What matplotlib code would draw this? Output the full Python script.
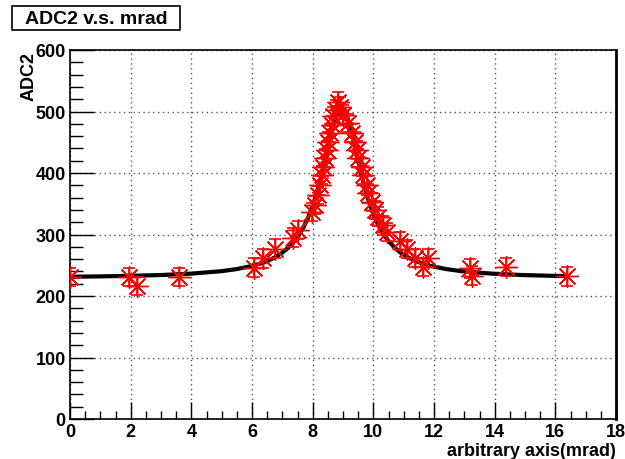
import numpy as np
import matplotlib.pyplot as plt
from matplotlib.patches import Rectangle
from matplotlib.ticker import MultipleLocator

plt.rcParams['font.family'] = ['Liberation Sans', 'DejaVu Sans']
plt.rcParams['font.weight'] = 'bold'

x_pts = [0.0, 1.95, 2.2, 3.6, 6.08, 6.37, 6.76, 7.36, 7.53, 7.97, 8.08, 8.19, 8.24,
         8.30, 8.35, 8.41, 8.46, 8.52, 8.57, 8.63, 8.68, 8.77, 8.85, 8.90, 9.01,
         9.18, 9.29, 9.40, 9.45, 9.51, 9.62, 9.67, 9.78, 9.84, 9.95, 10.06, 10.17,
         10.33, 10.44, 10.88, 11.12, 11.37, 11.63, 11.81, 13.19, 13.24, 14.38, 16.38]
y_pts = [231, 231, 216, 231, 246, 261, 277, 295, 307, 337, 348, 364, 380,
         397, 410, 424, 437, 451, 465, 478, 492, 503, 516, 508, 495,
         481, 465, 451, 437, 424, 410, 397, 380, 367, 353, 340, 329,
         315, 304, 289, 276, 262, 247, 262, 245, 233, 247, 232]
y_err = 15

# fit curve
x_fit = [0.0, 1.0, 2.0, 3.0, 4.0, 5.0, 5.5, 6.0, 6.25, 6.5, 6.75, 7.0, 7.2, 7.4,
         7.55, 7.7, 7.85, 8.0, 8.1, 8.2, 8.3, 8.4, 8.5, 8.6, 8.7, 8.8, 8.85, 8.95,
         9.05, 9.1, 9.2, 9.3, 9.4, 9.5, 9.6, 9.7, 9.8, 9.9, 10.05, 10.2, 10.35,
         10.5, 10.7, 10.9, 11.15, 11.4, 11.65, 11.9, 12.4, 12.9, 13.9, 14.9, 15.9,
         16.4]
y_fit = [231.3, 231.9, 232.8, 234.1, 236.4, 240.4, 243.8, 248.8, 252.3, 256.8,
         262.7, 270.5, 278.7, 289.4, 299.5, 312.0, 327.6, 346.8, 362.0, 379.3,
         398.5, 419.3, 441.1, 462.5, 481.5, 496.0, 501.0, 505.0, 501.0, 496.0,
         481.5, 462.5, 441.1, 419.3, 398.5, 379.3, 362.0, 346.8, 327.6, 312.0,
         299.5, 289.4, 278.7, 270.5, 262.7, 256.8, 252.3, 248.8, 243.8, 240.4,
         236.4, 234.1, 232.8, 232.3]

fig = plt.figure(figsize=(6.25, 4.6), dpi=100)
ax = fig.add_axes([70 / 625, 1 - 420 / 460, 546 / 625, 369 / 460])

ax.plot(x_fit, y_fit, color='black', lw=3, zorder=2,
        solid_joinstyle='round', solid_capstyle='round')
ax.errorbar(x_pts, y_pts, yerr=y_err, fmt='none', ecolor='red', elinewidth=1.2,
            capsize=4, capthick=1.2, zorder=3)
ax.plot(x_pts, y_pts, linestyle='none', marker=(8, 2, 0), markersize=16,
        markeredgecolor='red', markeredgewidth=1.0, color='red', zorder=4)
ax.plot(x_pts, y_pts, linestyle='none', marker='o', markersize=3,
        color='red', zorder=4)

ax.set_xlim(0, 18)
ax.set_ylim(0, 600)
ax.xaxis.set_major_locator(MultipleLocator(2))
ax.xaxis.set_minor_locator(MultipleLocator(0.5))
ax.yaxis.set_major_locator(MultipleLocator(100))
ax.yaxis.set_minor_locator(MultipleLocator(20))
ax.grid(True, which='major', color='#555555', linestyle=(0, (1, 2.5)), lw=1.0)

ax.tick_params(which='both', direction='in', top=False, right=False, labelsize=13)
ax.tick_params(axis='x', which='major', length=12, width=1, pad=3)
ax.tick_params(axis='x', which='minor', length=6, width=1)
ax.tick_params(axis='y', which='major', length=17, width=1, pad=3)
ax.tick_params(axis='y', which='minor', length=9, width=1)
for lab in ax.get_xticklabels() + ax.get_yticklabels():
    lab.set_fontweight('bold')
for s in ax.spines.values():
    s.set_linewidth(1.2)
ax.spines['right'].set_linewidth(2)

fig.text(29 / 625, 1 - 52 / 460, 'ADC2', rotation=90, ha='center', va='top',
         fontsize=13, fontweight='bold')
fig.text(616 / 625, 1 - 452 / 460, 'arbitrary axis(mrad)', ha='right', va='center',
         fontsize=13, fontweight='bold')

# title box
fig.patches.append(Rectangle((12 / 625, 1 - 31 / 460), 168 / 625, 24 / 460,
                             transform=fig.transFigure, fc='white', ec='black',
                             lw=1.2, zorder=5))
fig.text(96 / 625, 1 - 19 / 460, 'ADC2 v.s. mrad', ha='center', va='center',
         fontsize=14, fontweight='bold', zorder=6)

fig.savefig('out.png', dpi=100)
